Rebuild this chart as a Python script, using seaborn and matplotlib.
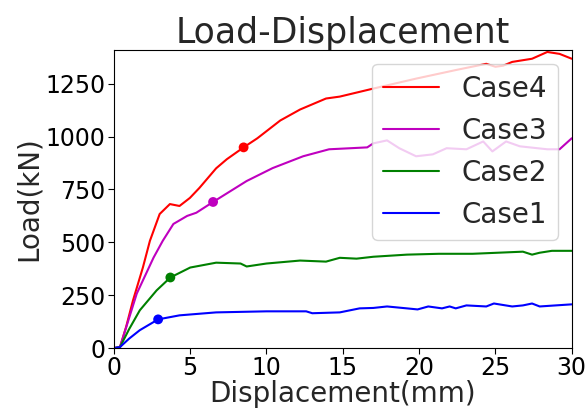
import pandas as pd
import matplotlib
matplotlib.use("Agg")
import matplotlib.pyplot as plt
import seaborn as sns

# values
case4_x = [0, 0.4, 0.8, 1.25, 1.9, 2.36, 3.0, 3.67, 4.3, 4.98, 5.6, 6.7, 7.4, 8.5, 9.4, 10.9, 12.2,
           13.9, 14.8, 17.0, 19.8, 22.5, 24.4, 25.0, 25.5, 26.1, 27.4, 28.4, 29.2, 30.0]
case4_y = [0, 5, 100, 225, 381, 507, 634, 681, 672, 710, 757, 850, 893, 949, 992, 1076, 1128,
           1180, 1189, 1227, 1274, 1316, 1344, 1330, 1335, 1353, 1368, 1400, 1391, 1368]

case3_x = [0, 0.4, 0.9, 1.5, 2.6, 3.2, 3.9, 4.8, 5.4, 6.5, 8.7, 10.4, 12.4, 14.1, 15.5, 16.6, 17.0,
           17.9, 18.7, 19.8, 20.9, 21.8, 23.1, 24.2, 24.8, 25.7, 26.6, 28.4, 29.2, 30.0]
case3_y = [0, 5, 120, 258, 428, 507, 587, 625, 640, 691, 790, 851, 907, 940, 945, 949, 968,
           982, 945, 907, 916, 945, 940, 977, 930, 977, 954, 940, 940, 992]

case2_x = [0, 0.4, 1.0, 1.7, 2.8, 3.7, 5.0, 6.7, 8.3, 8.7, 10.0, 12.2, 13.9, 14.8, 15.9, 17.0,
           19.2, 21.3, 23.5, 26.8, 27.4, 27.9, 28.7, 30.0]
case2_y = [0, 5, 90, 179, 273, 334, 381, 404, 400, 386, 400, 414, 409, 427, 423, 432,
           442, 446, 446, 456, 442, 451, 460, 460]

case1_x = [0, 0.4, 1.0, 1.7, 2.9, 4.3, 6.7, 10.0, 12.6, 13.0, 14.8, 16.1, 17.0, 17.9, 19.2, 19.9,
           20.6, 21.5, 22.0, 22.4, 23.1, 24.4, 24.9, 26.1, 26.8, 27.4, 27.9, 30.0]
case1_y = [0, 5, 45, 85, 136, 155, 169, 174, 174, 165, 169, 188, 190, 197, 188, 183,
           197, 188, 197, 188, 202, 197, 211, 197, 202, 211, 197, 207]

# marked points on each curve
mark_x = [8.5, 6.5, 3.7, 2.9]
mark_y = [949, 691, 334, 136]

cases = ["Case4", "Case3", "Case2", "Case1"]
colors = ["r", "m", "g", "b"]

frames = []
for name, xs, ys in zip(cases, [case4_x, case3_x, case2_x, case1_x], [case4_y, case3_y, case2_y, case1_y]):
    frames.append(pd.DataFrame({"Displacement": xs, "Load": ys, "Case": name}))
df = pd.concat(frames, ignore_index=True)
marks = pd.DataFrame({"Displacement": mark_x, "Load": mark_y, "Case": cases})

sns.set_style("ticks")
plt.rcParams["font.family"] = ["DejaVu Sans"]

fig = plt.figure(figsize=(5.87, 4.12), dpi=100)
ax = fig.add_axes([0.194, 0.155, 0.78, 0.724])

palette = dict(zip(cases, colors))
sns.lineplot(data=df, x="Displacement", y="Load", hue="Case", palette=palette,
             hue_order=cases, sort=False, estimator=None, linewidth=1.5, ax=ax)
sns.scatterplot(data=marks, x="Displacement", y="Load", hue="Case", palette=palette,
                hue_order=cases, s=50, edgecolor="none", legend=False, zorder=5, ax=ax)

ax.set_xlim(0, 30)
ax.set_ylim(0, 1410)
ax.set_xticks([0, 5, 10, 15, 20, 25, 30])
ax.set_yticks([0, 250, 500, 750, 1000, 1250])
ax.tick_params(labelsize=17, colors="black", length=4, pad=2)
for s in ax.spines.values():
    s.set_color("black")
ax.set_title("Load-Displacement", fontsize=25, pad=4)
ax.set_xlabel("Displacement(mm)", fontsize=20, labelpad=0)
ax.set_ylabel("Load(kN)", fontsize=20, labelpad=2)
ax.legend(loc="upper right", fontsize=20, title=None)

fig.savefig("out.png", dpi=100)
plt.close()
